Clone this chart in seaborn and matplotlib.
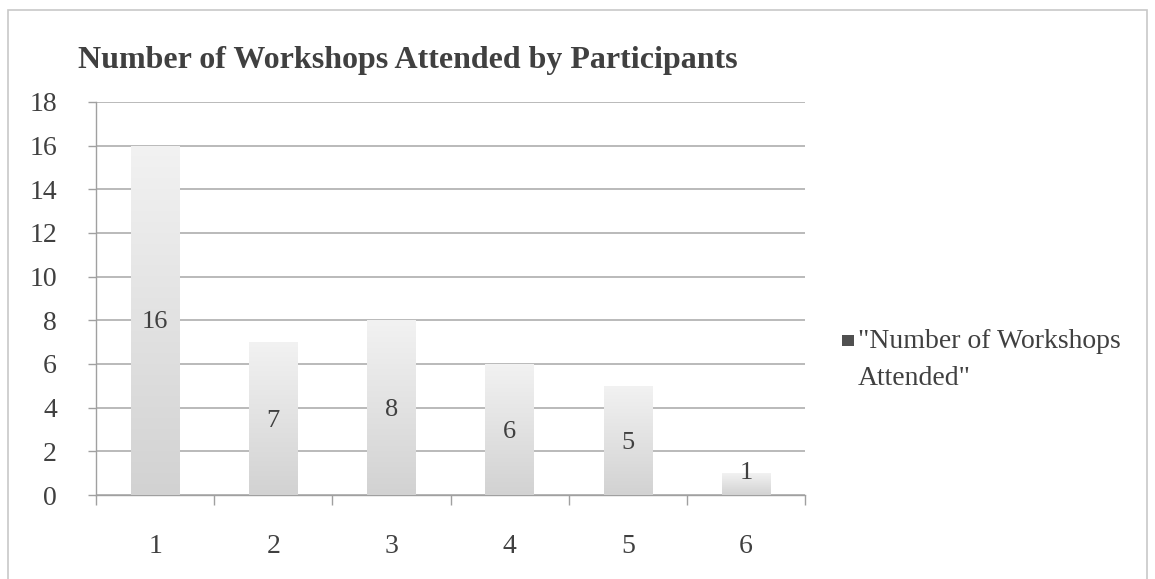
import numpy as np
import pandas as pd
import matplotlib
matplotlib.use("Agg")
import matplotlib.pyplot as plt
from matplotlib.patches import Rectangle
import seaborn as sns

# Data
workshops = ["1", "2", "3", "4", "5", "6"]
participants = [16, 7, 8, 6, 5, 1]
series_name = '"Number of Workshops\nAttended"'
title = "Number of Workshops Attended by Participants"
y_ticks = [0, 2, 4, 6, 8, 10, 12, 14, 16, 18]

df = pd.DataFrame({"workshops": workshops, "participants": participants})

sns.set_theme(style="white")
plt.rcParams["font.family"] = ["Liberation Serif", "DejaVu Serif"]

W, H = 1155, 579
fig = plt.figure(figsize=(W / 100, H / 100), dpi=100)
ax = fig.add_axes([0.0831, 0.145, 0.6139, 0.679])

sns.barplot(data=df, x="workshops", y="participants", ax=ax, width=0.41,
            color="#dcdcdc", edgecolor="none", saturation=1, zorder=2)

# Vertical grey gradient on each bar
grad = np.linspace(0, 1, 256).reshape(-1, 1)
cmap = matplotlib.colors.LinearSegmentedColormap.from_list("bar", ["#d2d2d2", "#f2f2f2"])
for p in ax.patches:
    x0, y0 = p.get_x(), p.get_y()
    w, h = p.get_width(), p.get_height()
    im = ax.imshow(grad, extent=(x0, x0 + w, y0, y0 + h), origin="lower",
                   cmap=cmap, aspect="auto", zorder=3)
    im.set_clip_path(p)
    p.set_facecolor("none")

# Value labels in the middle of each bar
for i, v in enumerate(participants):
    ax.text(i, v / 2 + (0.5 if v < 2 else -0.1), str(v), ha="center", va="center",
            fontsize=19, color="#404040", zorder=4)

ax.set_xlim(-0.5, 5.5)
ax.set_ylim(0, 18)
ax.set_yticks(y_ticks)
ax.yaxis.grid(True, color="#b4b4b4", linewidth=1.3, zorder=0)
ax.set_axisbelow(True)
for s in ["top", "right"]:
    ax.spines[s].set_visible(False)
for s in ["left", "bottom"]:
    ax.spines[s].set_color("#a0a0a0")
    ax.spines[s].set_linewidth(1.0)

ax.tick_params(axis="y", which="major", length=6, width=1, color="#a0a0a0",
               direction="out", pad=22, labelsize=20, labelcolor="#404040", left=True)
ax.set_xticks(np.arange(-0.5, 6.0, 1.0), minor=True)
ax.tick_params(axis="x", which="major", length=0, pad=28, labelsize=20, labelcolor="#404040")
ax.tick_params(axis="x", which="minor", length=7, width=1, color="#a0a0a0",
               direction="out", bottom=True)
ax.set_xlabel("")
ax.set_ylabel("")

fig.text(0.0675, 0.895, title, fontsize=23, fontweight="bold", color="#404040",
         ha="left", va="center", family=["Liberation Serif"])

# Series key: swatch next to the first line of the wrapped series name
fig.patches.append(Rectangle((842 / W, 1 - 346 / H), 12 / W, 11 / H,
                             transform=fig.transFigure, facecolor="#505050",
                             edgecolor="none"))
fig.text(858 / W, 1 - 329 / H, series_name, fontsize=20, color="#404040",
         ha="left", va="top", linespacing=1.65)

# Outer chart border
fig.patches.append(Rectangle((8 / W, -0.01), (1147 - 8) / W, 1 - 10 / H + 0.01,
                             transform=fig.transFigure, fill=False,
                             edgecolor="#c8c8c8", linewidth=1.2))

fig.savefig("out.png", dpi=100, facecolor="white")
